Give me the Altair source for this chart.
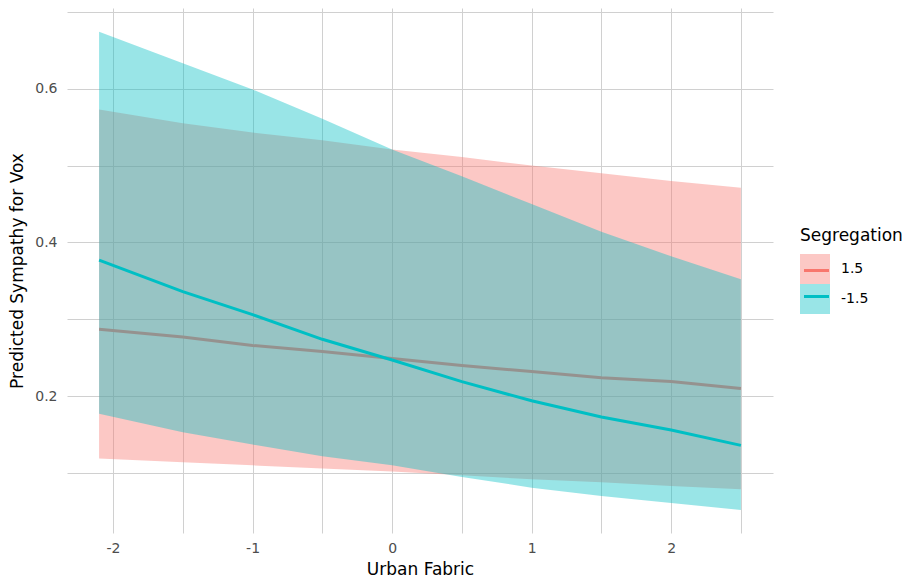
import altair as alt
import pandas as pd

# Urban Fabric values at which predictions were computed
urban_fabric = [-2.1, -1.5, -1.0, -0.5, 0.0, 0.5, 1.0, 1.5, 2.0, 2.5]

# Segregation = 1.5
fit_hi = [0.287, 0.277, 0.266, 0.258, 0.249, 0.240, 0.232, 0.224, 0.219, 0.210]
low_hi = [0.119, 0.114, 0.110, 0.106, 0.102, 0.097, 0.092, 0.088, 0.083, 0.079]
up_hi = [0.573, 0.555, 0.543, 0.533, 0.521, 0.511, 0.500, 0.490, 0.480, 0.471]

# Segregation = -1.5
fit_lo = [0.377, 0.336, 0.306, 0.274, 0.247, 0.219, 0.194, 0.173, 0.156, 0.136]
low_lo = [0.177, 0.153, 0.137, 0.122, 0.110, 0.095, 0.081, 0.070, 0.061, 0.052]
up_lo = [0.674, 0.633, 0.599, 0.561, 0.521, 0.486, 0.450, 0.414, 0.382, 0.352]

groups = ["1.5", "-1.5"]
colors = ["#F8766D", "#00BFC4"]

x_ticks = [-2, -1.5, -1, -0.5, 0, 0.5, 1, 1.5, 2, 2.5]
y_ticks = [0.1, 0.2, 0.3, 0.4, 0.5, 0.6, 0.7]

rows = []
for g, fit, lo, up in [("1.5", fit_hi, low_hi, up_hi), ("-1.5", fit_lo, low_lo, up_lo)]:
    for x, f, l, u in zip(urban_fabric, fit, lo, up):
        rows.append({"x": x, "fit": f, "lower": l, "upper": u, "Segregation": g})
df = pd.DataFrame(rows)

FONT = "DejaVu Sans"
grid_color = "#d0d0d0"

x_enc = alt.X(
    "x:Q",
    title="Urban Fabric",
    scale=alt.Scale(domain=[-2.33, 2.73], nice=False, zero=False),
    axis=alt.Axis(
        values=x_ticks,
        labelExpr="datum.value % 1 === 0 ? toString(datum.value) : ''",
        domain=False, ticks=False, grid=True, gridColor=grid_color, gridWidth=1,
        labelFont=FONT, labelFontSize=14, labelColor="#4D4D4D", labelPadding=8,
        titleFont=FONT, titleFontSize=17, titleFontWeight="normal", titleColor="#000000",
        titlePadding=6,
    ),
)

y_scale = alt.Scale(domain=[0.022, 0.705], nice=False, zero=False)
y_axis = alt.Axis(
    values=y_ticks,
    labelExpr="(datum.value == 0.2 || datum.value == 0.4 || datum.value == 0.6) ? format(datum.value, '.1f') : ''",
    domain=False, ticks=False, grid=True, gridColor=grid_color, gridWidth=1,
    labelFont=FONT, labelFontSize=14, labelColor="#4D4D4D", labelPadding=10,
    titleFont=FONT, titleFontSize=17, titleFontWeight="normal", titleColor="#000000",
    titlePadding=8,
)

color_scale = alt.Scale(domain=groups, range=colors)

# Legend with the translucent ribbon keys, title and labels
area_legend = alt.Legend(
    orient="none", legendX=733, legendY=220, padding=0,
    title="Segregation", titleFont=FONT, titleFontSize=17, titleFontWeight="normal",
    titleColor="#000000", titlePadding=9,
    symbolType="square", symbolSize=900, symbolOpacity=0.4, symbolStrokeWidth=0,
    rowPadding=0, symbolOffset=0,
    labelFont=FONT, labelFontSize=14, labelColor="#000000", labelOffset=11,
)

# Second legend laid over the first: just the line strokes inside each key
line_legend = alt.Legend(
    orient="none", legendX=735.5, legendY=248.5, padding=0,
    title="",
    symbolType="stroke", symbolSize=625, symbolStrokeWidth=3, symbolOpacity=1,
    rowPadding=5, symbolOffset=0,
    labelExpr="''", labelFont=FONT, labelFontSize=14, labelOffset=0,
)


def ribbon(g, legend):
    return (
        alt.Chart(df)
        .transform_filter(alt.datum.Segregation == g)
        .mark_area(opacity=0.4, interpolate="linear")
        .encode(
            x=x_enc,
            y=alt.Y("lower:Q", title="Predicted Sympathy for Vox", scale=y_scale, axis=y_axis),
            y2="upper:Q",
            color=alt.Color("Segregation:N", scale=color_scale, legend=legend),
        )
    )


def fit_line(g, legend):
    return (
        alt.Chart(df)
        .transform_filter(alt.datum.Segregation == g)
        .mark_line(strokeWidth=3)
        .encode(
            x=x_enc,
            y=alt.Y("fit:Q", scale=y_scale, axis=y_axis, title="Predicted Sympathy for Vox"),
            color=alt.Color("Segregation:N", scale=color_scale, legend=legend),
        )
    )


chart = (
    alt.layer(
        ribbon("1.5", area_legend),
        fit_line("1.5", line_legend),
        ribbon("-1.5", None),
        fit_line("-1.5", None),
    )
    .resolve_legend(color="independent")
    .properties(
        width=706,
        height=525,
        autosize=alt.AutoSizeParams(type="none"),
        padding={"left": 67, "top": 8, "right": 144, "bottom": 45},
    )
    .configure(background="white")
    .configure_view(strokeWidth=0, stroke="transparent")
)

chart.save("out.html", embed_options={"renderer": "svg", "actions": False})
